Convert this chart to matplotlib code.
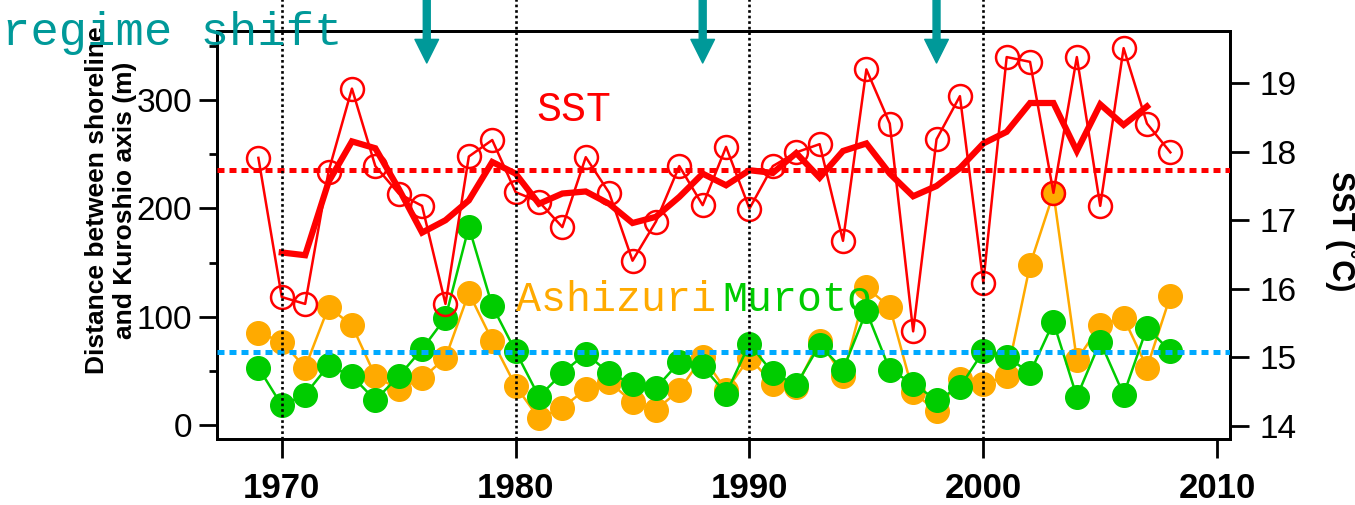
import matplotlib
matplotlib.use("Agg")
import matplotlib.pyplot as plt
from matplotlib.transforms import blended_transform_factory

# ---- data ----
years = list(range(1969, 2009))
sst = [17.91, 15.88, 15.78, 17.71, 18.92, 17.79, 17.39, 17.21, 15.78, 17.93, 18.17,
       17.41, 17.27, 16.90, 17.92, 17.40, 16.41, 16.98, 17.79, 17.22, 18.07, 17.17,
       17.79, 17.99, 18.11, 16.70, 19.20, 18.41, 15.38, 18.18, 18.81, 16.09,
       19.38, 19.31, 17.40, 19.38, 17.21, 19.51, 18.41, 17.99]
mean_years = list(range(1970, 2008))
sst_running = [16.53, 16.49, 17.56, 18.15, 18.05, 17.46, 16.82, 17.00, 17.29, 17.85,
               17.68, 17.24, 17.39, 17.42, 17.24, 16.96, 17.05, 17.34, 17.68, 17.51,
               17.73, 17.69, 17.98, 17.62, 18.01, 18.12, 17.68, 17.35, 17.50, 17.76,
               18.12, 18.29, 18.71, 18.71, 18.01, 18.69, 18.39, 18.66]
ashizuri = [85, 77, 53, 109, 92, 45, 33, 43, 62, 122, 78,
            36, 6, 16, 33, 40, 21, 14, 32, 63, 32, 62,
            38, 35, 78, 45, 127, 109, 30, 13, 42, 38,
            45, 148, 214, 60, 92, 99, 53, 119]
muroto = [53, 18, 28, 55, 45, 23, 45, 70, 99, 183, 110,
          68, 26, 48, 66, 48, 38, 34, 58, 54, 29, 75,
          48, 37, 74, 51, 105, 51, 38, 23, 35, 68,
          63, 48, 95, 26, 77, 28, 90, 68]
sst_mean = 17.73
distance_mean = 67.4
decades = [1970, 1980, 1990, 2000]
regime_years = [1976.2, 1988.0, 1998.0]

RED = "#ff0000"
ORANGE = "#ffaa00"
GREEN = "#00cc00"
BLUE = "#00aaff"
TEAL = "#009999"

plt.rcParams['font.family'] = ['Liberation Sans', 'DejaVu Sans']

fig = plt.figure(figsize=(13.55, 5.05), dpi=100)
ax = fig.add_axes([217 / 1355, 1 - 439 / 505, 1013 / 1355, 408 / 505])
ax2 = ax.twinx()

# distance series (left axis)
ax.plot(years, ashizuri, color=ORANGE, lw=1.8, marker='o', ms=17, mec=ORANGE, zorder=3)
ax.plot(years, muroto, color=GREEN, lw=1.8, marker='o', ms=17, mec=GREEN, zorder=4)

# SST series (right axis)
ax2.plot(years, sst, color=RED, lw=1.8, marker='o', ms=16.5, mfc='none', mec=RED, mew=1.8, zorder=3)
ax2.plot(mean_years, sst_running, color=RED, lw=4.5, solid_joinstyle='miter', zorder=4)
ax2.axhline(sst_mean, color=RED, lw=3.6, ls=(0, (1.4, 1.0)), zorder=5)

# mean distance line, drawn on top of the markers
trans = blended_transform_factory(ax2.transAxes, ax.transData)
ax2.plot([0, 1], [distance_mean, distance_mean], transform=trans,
         color=BLUE, lw=3.6, ls=(0, (1.4, 1.0)), zorder=5)

for d in decades:
    ax2.axvline(d, ymin=0, ymax=1.08, color='black', lw=1.9, ls=(0, (1, 1.1)),
                clip_on=False, zorder=6)

ax.set_xlim(1967.23, 2010.55)
ax.set_ylim(-13, 364)
ax2.set_ylim(13.81, 19.76)

ax.set_xticks([1970, 1980, 1990, 2000, 2010])
ax.set_yticks([0, 100, 200, 300])
ax.set_yticks([50, 150, 250, 350], minor=True)
ax2.set_yticks([14, 15, 16, 17, 18, 19])

ax.tick_params(axis='x', direction='out', length=14, width=2, labelsize=25, pad=10)
ax.tick_params(axis='y', which='major', direction='out', length=13, width=2, labelsize=24, pad=5)
ax.tick_params(axis='y', which='minor', direction='out', length=6, width=2)
ax2.tick_params(axis='y', direction='out', length=14, width=2, labelsize=24, pad=7)
for lab in ax.get_xticklabels():
    lab.set_fontweight('bold')

for a in (ax, ax2):
    for s in a.spines.values():
        s.set_linewidth(2)

# labels
fig.text(111 / 1355, 1 - 200 / 505, "Distance between shoreline\nand Kuroshio axis (m)",
         rotation=90, ha='center', va='center', fontsize=19, fontweight='bold',
         linespacing=1.2)
fig.text(1341 / 1355, 1 - 231 / 505, "SST (\u02daC)", rotation=270, ha='center',
         va='center', fontsize=22, fontweight='bold')

mono = 'Liberation Mono'
fig.text(2 / 1355, 1 - 45 / 505, "regime shift", family=mono, fontsize=34,
         color=TEAL, ha='left', va='baseline')
fig.text(536 / 1355, 1 - 110 / 505, "SST", family=mono, fontsize=30, color=RED,
         ha='left', va='center')
fig.text(516 / 1355, 1 - 300 / 505, "Ashizuri", family=mono, fontsize=30,
         color=ORANGE, ha='left', va='center')
fig.text(722 / 1355, 1 - 300 / 505, "Muroto", family=mono, fontsize=30,
         color=GREEN, ha='left', va='center')

for yr in regime_years:
    ax2.annotate('', xy=(yr, 1 - 63 / 505), xytext=(yr, 1.01),
                 xycoords=('data', 'figure fraction'),
                 textcoords=('data', 'figure fraction'),
                 arrowprops=dict(width=5, headwidth=17, headlength=17,
                                 color=TEAL, shrink=0),
                 annotation_clip=False)

fig.savefig("out.png", dpi=100)
